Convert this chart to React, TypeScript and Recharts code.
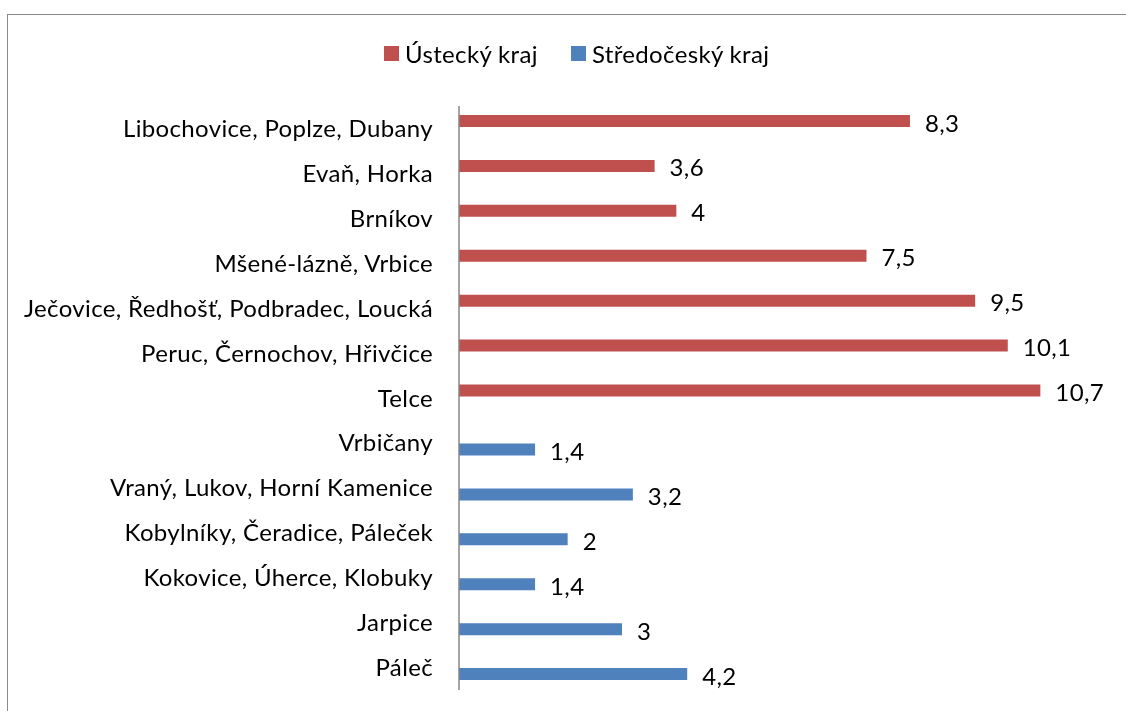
import React from 'react';
import { BarChart, Bar, XAxis, YAxis, Legend, LabelList } from 'recharts';

// Categories top to bottom
const categories: string[] = [
  'Libochovice, Poplze, Dubany',
  'Evaň, Horka',
  'Brníkov',
  'Mšené-lázně, Vrbice',
  'Ječovice, Ředhošť, Podbradec, Loucká',
  'Peruc, Černochov, Hřivčice',
  'Telce',
  'Vrbičany',
  'Vraný, Lukov, Horní Kamenice',
  'Kobylníky, Čeradice, Páleček',
  'Kokovice, Úherce, Klobuky',
  'Jarpice',
  'Páleč',
];

// Ústecký kraj values (null where the municipality belongs to the other region)
const usteckyValues: (number | null)[] = [8.3, 3.6, 4, 7.5, 9.5, 10.1, 10.7, null, null, null, null, null, null];
// Středočeský kraj values
const stredoceskyValues: (number | null)[] = [null, null, null, null, null, null, null, 1.4, 3.2, 2, 1.4, 3, 4.2];

const seriesNames = ['Ústecký kraj', 'Středočeský kraj'];
const seriesColors = ['#C0504D', '#4F81BD'];

const data = categories.map((name, i) => ({
  name,
  ustecky: usteckyValues[i],
  stredocesky: stredoceskyValues[i],
}));

const FONT = 'Lato, "Open Sans", sans-serif';
const FONT_SIZE = 24;
const SPACING = 0.35;

const textStyle = { fill: '#000', fontSize: FONT_SIZE, fontFamily: FONT, letterSpacing: SPACING };

const fmt = (v: any) => (v === null || v === undefined ? '' : String(v).replace('.', ','));

const LegendContent = () => (
  <div
    style={{
      display: 'flex',
      justifyContent: 'flex-start',
      alignItems: 'center',
      height: 30,
      paddingLeft: 376,
      fontFamily: FONT,
      fontSize: FONT_SIZE,
      letterSpacing: SPACING,
      color: '#000',
    }}
  >
    {seriesNames.map((n, i) => (
      <div key={n} style={{ display: 'flex', alignItems: 'center', marginRight: i === 0 ? 33 : 0 }}>
        <span style={{ width: 15, height: 15, background: seriesColors[i], display: 'inline-block', marginRight: 6 }} />
        <span>{n}</span>
      </div>
    ))}
  </div>
);

export default function App() {
  return (
    <div style={{ position: 'relative', width: 1118, height: 703, background: '#fff' }}>
      {/* chart frame, running past the right and bottom edges of the window */}
      <div
        style={{
          position: 'fixed',
          left: 7,
          top: 14,
          width: 1300,
          height: 900,
          border: '1px solid #8a8a8a',
          boxSizing: 'border-box',
          pointerEvents: 'none',
        }}
      />
      <div style={{ position: 'absolute', left: 0, top: 0 }}>
        <BarChart
          width={1118}
          height={703}
          data={data}
          layout="vertical"
          margin={{ top: 68, right: 15, bottom: 21, left: 0 }}
          barSize={12}
          barGap={2}
        >
          <XAxis type="number" domain={[0, 12]} hide />
          <YAxis
            type="category"
            dataKey="name"
            width={451}
            axisLine={{ stroke: '#868686', strokeWidth: 1.5 }}
            tickLine={false}
            tickSize={0}
            tickMargin={26}
            interval={0}
            tick={textStyle}
          />
          <Legend
            verticalAlign="top"
            align="left"
            content={<LegendContent />}
            wrapperStyle={{ top: 30, left: 0, width: 1118 }}
          />
          <Bar dataKey="ustecky" name={seriesNames[0]} fill={seriesColors[0]} isAnimationActive={false}>
            <LabelList dataKey="ustecky" position="right" offset={15} formatter={fmt} style={textStyle} dy={2} />
          </Bar>
          <Bar dataKey="stredocesky" name={seriesNames[1]} fill={seriesColors[1]} isAnimationActive={false}>
            <LabelList dataKey="stredocesky" position="right" offset={15} formatter={fmt} style={textStyle} dy={2} />
          </Bar>
        </BarChart>
      </div>
    </div>
  );
}
